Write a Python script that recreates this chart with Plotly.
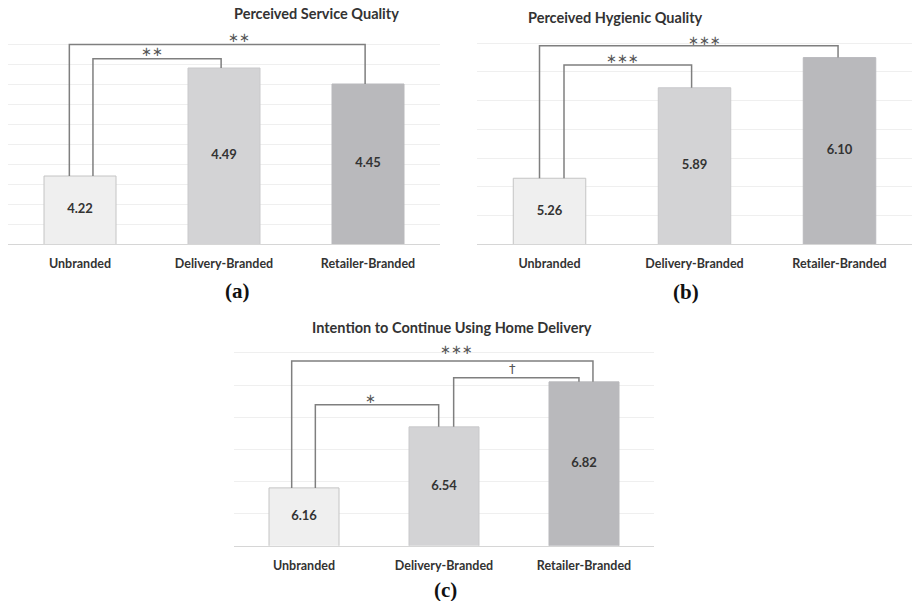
import plotly.graph_objects as go

W, H = 912, 601

categories = ["Unbranded", "Delivery-Branded", "Retailer-Branded"]
service_quality = [4.22, 4.49, 4.45]
hygienic_quality = [5.26, 5.89, 6.10]
intention = [6.16, 6.54, 6.82]
value_labels_a = ["4.22", "4.49", "4.45"]
value_labels_b = ["5.26", "5.89", "6.10"]
value_labels_c = ["6.16", "6.54", "6.82"]
titles = ["Perceived Service Quality", "Perceived Hygienic Quality",
          "Intention to Continue Using Home Delivery"]
panel_tags = ["(a)", "(b)", "(c)"]

bar_fill = ["#efefef", "#d3d3d5", "#b9b9bc"]
bar_edge = ["#c4c4c4", "#c9c9cb", "#b9b9bc"]

FONT = "Lato"
TXT = "#333333"
LINE = "#7f7f7f"


def px(x):
    return x / W


def py(y):
    return 1 - y / H


panels = [
    dict(x0=8, x1=440, yb=244, yt=24, rng=[4.05, 4.60], ticks=[4.05 + 0.05 * k for k in range(11)]),
    dict(x0=477, x1=912, yb=244.3, yt=28.9, rng=[4.8, 6.3], ticks=[4.8 + 0.2 * k for k in range(8)]),
    dict(x0=234, x1=654, yb=545.7, yt=336.9, rng=[5.8, 7.1], ticks=[5.8 + 0.2 * k for k in range(7)]),
]
series = [service_quality, hygienic_quality, intention]
vlabels = [value_labels_a, value_labels_b, value_labels_c]

# significance brackets: (from bar, to bar, left offset, right offset, height, label, label x, label y)
brackets = [
    [(0, 2, -0.074, -0.02, 4.549, "∗∗", 1.104, 4.566),
     (0, 1, 0.09, -0.02, 4.513, "∗∗", 0.50, 4.531)],
    [(0, 2, -0.069, -0.01, 6.183, "∗∗∗", 1.069, 6.218),
     (0, 1, 0.10, -0.02, 6.049, "∗∗∗", 0.503, 6.092)],
    [(0, 2, -0.088, 0.064, 6.950, "∗∗∗", 1.089, 7.019),
     (1, 2, 0.069, -0.036, 6.846, "†", 1.486, 6.905),
     (0, 1, 0.081, -0.038, 6.678, "∗", 0.476, 6.716)],
]

fig = go.Figure()
shapes = []
annotations = []

for p, (geo, vals, labs) in enumerate(zip(panels, series, vlabels)):
    sx = "" if p == 0 else str(p + 1)
    fig.add_trace(go.Bar(
        x=categories, y=vals,
        marker=dict(color=bar_fill, line=dict(color=bar_edge, width=1)),
        width=0.5, xaxis="x" + sx, yaxis="y" + sx, showlegend=False,
        hoverinfo="skip",
    ))
    # value labels centred in the visible part of each bar
    base = geo["rng"][0]
    fig.add_trace(go.Scatter(
        x=categories, y=[(v + base) / 2 for v in vals], text=labs, mode="text",
        textposition="middle center",
        textfont=dict(family=FONT, size=13, color=TXT, weight="bold"),
        xaxis="x" + sx, yaxis="y" + sx, showlegend=False, hoverinfo="skip",
    ))
    xa = dict(domain=[px(geo["x0"]), min(1, px(geo["x1"]))], anchor="y" + sx,
              range=[-0.5, 2.5], showline=True, linecolor="#d6d6d6", linewidth=1,
              showgrid=False, ticks="", fixedrange=True,
              tickfont=dict(family=FONT, size=12.5, color=TXT, weight="bold"),
              ticklabelstandoff=8)
    ya = dict(domain=[py(geo["yb"]), py(geo["yt"])], anchor="x" + sx,
              range=geo["rng"], tickvals=geo["ticks"], showticklabels=False,
              gridcolor="#efefef", gridwidth=1, zeroline=False, fixedrange=True)
    fig.layout["xaxis" + sx] = xa
    fig.layout["yaxis" + sx] = ya

    xr, yr = "x" + sx, "y" + sx
    for (i, j, lo, ro, h, lab, lx, ly) in brackets[p]:
        xl, xrr = i + lo, j + ro
        shapes.append(dict(type="path", xref=xr, yref=yr,
                           path=f"M {xl},{vals[i]} L {xl},{h} L {xrr},{h} L {xrr},{vals[j]}",
                           line=dict(color=LINE, width=1.5), layer="above"))
        annotations.append(dict(x=lx, y=ly, xref=xr, yref=yr, text=lab,
                                showarrow=False, yanchor="middle",
                                font=dict(family="DejaVu Sans", size=13, color="#555555")))

    title_pos = [(231.7, 14), (705, 17.3), (451.7, 327.7)][p]
    annotations.append(dict(x=px(title_pos[0]), y=py(title_pos[1]), xref="paper", yref="paper",
                            text=titles[p], showarrow=False, yanchor="middle",
                            font=dict(family=FONT, size=14.5, color=TXT, weight="bold")))
    tag_pos = [(222.7, 291), (701, 291.7), (445.3, 589.5)][p]
    annotations.append(dict(x=px(tag_pos[0]), y=py(tag_pos[1]), xref="paper", yref="paper",
                            text=panel_tags[p], showarrow=False, yanchor="middle",
                            font=dict(family="Liberation Serif", size=21, color="#111111",
                                      weight="bold")))

# white label boxes in panel (c) that interrupt gridlines (below traces)
for (bx0, by0, bx1, by1) in [(423, 340, 487, 360), (483, 362, 540, 390), (343, 380, 400, 410)]:
    shapes.append(dict(type="rect", xref="paper", yref="paper",
                       x0=px(bx0), x1=px(bx1), y0=py(by1), y1=py(by0),
                       fillcolor="white", line=dict(width=0), layer="below"))

fig.update_layout(width=W, height=H, margin=dict(l=0, r=0, t=0, b=0),
                  paper_bgcolor="white", plot_bgcolor="white",
                  shapes=shapes, annotations=annotations, bargap=0.5)

fig.write_html("out.html", config={"displayModeBar": False},
               post_script="document.body.style.margin='0';document.body.style.overflow='hidden';")
